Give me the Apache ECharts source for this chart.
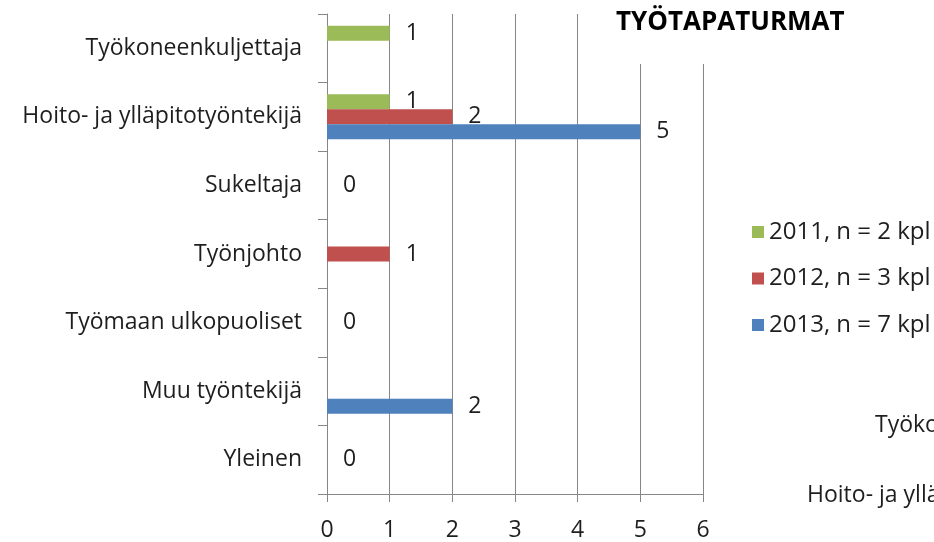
<!DOCTYPE html>
<html><head><meta charset="utf-8">
<script src="https://cdn.jsdelivr.net/npm/echarts@6/dist/echarts.min.js"></script>
<style>html,body{margin:0;padding:0;background:#fff}#c{width:934px;height:542px}</style>
</head><body><div id="c"></div>
<script>
const categories = ["Työkoneenkuljettaja","Hoito- ja ylläpitotyöntekijä","Sukeltaja","Työnjohto","Työmaan ulkopuoliset","Muu työntekijä","Yleinen"];
const seriesNames = ["2011, n = 2 kpl","2012, n = 3 kpl","2013, n = 7 kpl"];
const values2011 = [1, 1, null, null, null, null, null];
const values2012 = [null, 2, 0, 1, 0, null, 0];
const values2013 = [null, 5, null, null, null, 2, null];
const xTicks = [0,1,2,3,4,5,6];
const titleText = "TYÖTAPATURMAT";
const strayTexts = ["Työkoneenkuljettaja","Hoito- ja ylläpitotyöntekijä"];

const FONT = "Open Sans";
const FS = 23;
const TXT = '#1e1e1e';
const colors = ["#9BBB59","#C0504D","#4F81BD"];
const chart = echarts.init(document.getElementById('c'));
const mk = (name, data, color) => ({
  name, type: 'bar', data, barWidth: 15, barGap: '0%',
  itemStyle: {color},
  label: {show: true, position: 'right', distance: 16, color: TXT, fontFamily: FONT, fontSize: FS}
});
chart.setOption({
  animation: false,
  color: colors,
  title: {text: titleText, left: 611, top: 5, z: 100,
    textStyle: {fontFamily: FONT, fontWeight: 'bold', fontSize: 26, color: '#000'}},
  legend: {orient: 'vertical', left: 747, top: 215, itemWidth: 12, itemHeight: 12, itemGap: 22.5, itemStyle: {borderWidth: 0},
    icon: 'rect', data: seriesNames,
    textStyle: {fontFamily: FONT, fontSize: 24, lineHeight: 24, color: TXT}},
  grid: {left: 327, right: 231, top: 14, bottom: 47, containLabel: false},
  xAxis: {type: 'value', min: 0, max: 6, interval: 1,
    axisLine: {show: true, lineStyle: {color: '#868686'}},
    axisTick: {show: true, length: 8, lineStyle: {color: '#868686'}},
    splitLine: {show: true, lineStyle: {color: '#868686'}},
    axisLabel: {margin: 25, fontFamily: FONT, fontSize: FS, color: TXT,
      formatter: v => xTicks.includes(v) ? String(v) : ''}},
  yAxis: {type: 'category', inverse: true, data: categories,
    axisLine: {show: true, lineStyle: {color: '#868686'}},
    axisTick: {show: true, length: 9, lineStyle: {color: '#868686'}},
    axisLabel: {margin: 25, fontFamily: FONT, fontSize: FS, color: TXT}},
  graphic: [
    {type: 'rect', left: 605, top: 0, shape: {width: 329, height: 64}, style: {fill: '#fff'}, z: 50},
    {type: 'text', left: 875, top: 414, style: {text: strayTexts[0], fontFamily: FONT, fontSize: FS, fill: TXT}, z: 50},
    {type: 'text', left: 807, top: 484, style: {text: strayTexts[1], fontFamily: FONT, fontSize: FS, fill: TXT}, z: 50}
  ],
  series: [mk(seriesNames[0], values2011, colors[0]), mk(seriesNames[1], values2012, colors[1]), mk(seriesNames[2], values2013, colors[2])]
});
</script></body></html>
